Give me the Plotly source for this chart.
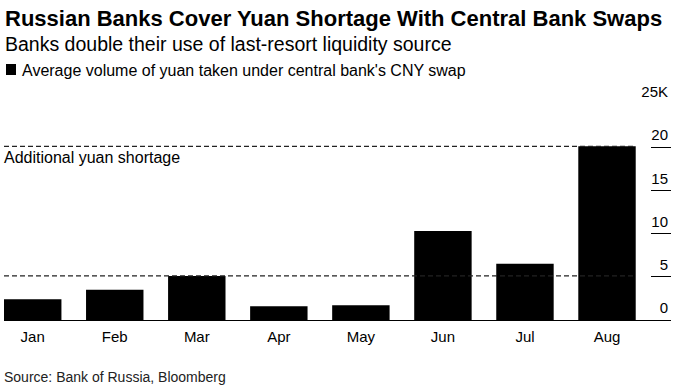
import plotly.graph_objects as go

# ---- data ----
months = ["Jan", "Feb", "Mar", "Apr", "May", "Jun", "Jul", "Aug"]
volume_k = [2.4, 3.5, 5.1, 1.6, 1.7, 10.3, 6.5, 20.1]
y_ticks = [0, 5, 10, 15, 20, 25]
y_tick_text = ["0", "5", "10", "15", "20", "25K"]
series_name = "Average volume of yuan taken under central bank's CNY swap"
title = "Russian Banks Cover Yuan Shortage With Central Bank Swaps"
subtitle = "Banks double their use of last-resort liquidity source"
source = "Source: Bank of Russia, Bloomberg"
shortage_label = "Additional yuan shortage"

W, H = 687, 390
ML, MR, MT, MB = 4, 16, 104, 70
FONT = "Liberation Sans, Arial, sans-serif"
bar_width = 0.7

def px_x(px):
    return (px - ML) / (W - ML - MR)

def px_y(py):
    return (H - MB - py) / (H - MT - MB)

fig = go.Figure()
fig.add_trace(go.Bar(
    x=months, y=volume_k, width=bar_width,
    marker=dict(color="#000000", line=dict(width=0)),
    name=series_name, showlegend=False,
))

# dashed reference lines from the start-level (Mar) to the peak (Aug)
lo = volume_k[months.index("Mar")]
hi = max(volume_k)
for lvl in (lo, hi):
    fig.add_shape(type="line", xref="x", yref="y",
                  x0=-bar_width / 2, x1=len(months) - 1 + bar_width / 2,
                  y0=lvl, y1=lvl,
                  line=dict(color="#222222", width=1.2, dash="5px,3px"), layer="above")

fig.add_annotation(text=shortage_label, xref="paper", yref="y", x=0, y=hi,
                   xanchor="left", yanchor="top", yshift=-1, xshift=-2, showarrow=False,
                   font=dict(family=FONT, size=16, color="#000000"))

# legend (square + text)
fig.add_shape(type="rect", xref="paper", yref="paper",
              x0=px_x(6), x1=px_x(16), y0=px_y(75), y1=px_y(64),
              fillcolor="#000000", line=dict(width=0))
fig.add_annotation(text=series_name, xref="paper", yref="paper",
                   x=px_x(20), y=px_y(70), xanchor="left", yanchor="middle",
                   showarrow=False, font=dict(family=FONT, size=16, color="#000000"))

# title, subtitle, source
fig.add_annotation(text="<b>" + title + "</b>", xref="paper", yref="paper",
                   x=px_x(3), y=px_y(19), xanchor="left", yanchor="middle",
                   showarrow=False, font=dict(family=FONT, size=22, color="#000000"))
fig.add_annotation(text=subtitle, xref="paper", yref="paper",
                   x=px_x(3), y=px_y(44), xanchor="left", yanchor="middle",
                   showarrow=False, font=dict(family=FONT, size=19.5, color="#000000"))
fig.add_annotation(text=source, xref="paper", yref="paper",
                   x=px_x(2), y=px_y(377), xanchor="left", yanchor="middle",
                   showarrow=False, font=dict(family=FONT, size=14, color="#222222"))

fig.update_layout(
    width=W, height=H,
    margin=dict(l=ML, r=MR, t=MT, b=MB, autoexpand=False),
    paper_bgcolor="white", plot_bgcolor="white",
    bargap=0.3,
    font=dict(family=FONT, size=15, color="#000000"),
    xaxis=dict(type="category", range=[-bar_width / 2, len(months) - 1 + 0.78],
               showgrid=False, zeroline=False, showline=True, linecolor="#000000",
               linewidth=1, ticks="", ticklabelstandoff=3,
               tickfont=dict(size=15, color="#000000")),
    yaxis=dict(side="right", range=[0, 25], tickvals=y_ticks, ticktext=y_tick_text,
               showgrid=False, zeroline=False, showline=False,
               ticks="inside", ticklen=20, tickcolor="#000000", tickwidth=1,
               ticklabelposition="inside top", ticklabeloverflow="allow",
               ticklabelshift=-1,
               tickfont=dict(size=15, color="#000000")),
)

fig.write_html("out.html", config={"displayModeBar": False},
               post_script="document.body.style.margin='0';document.documentElement.style.margin='0';")
